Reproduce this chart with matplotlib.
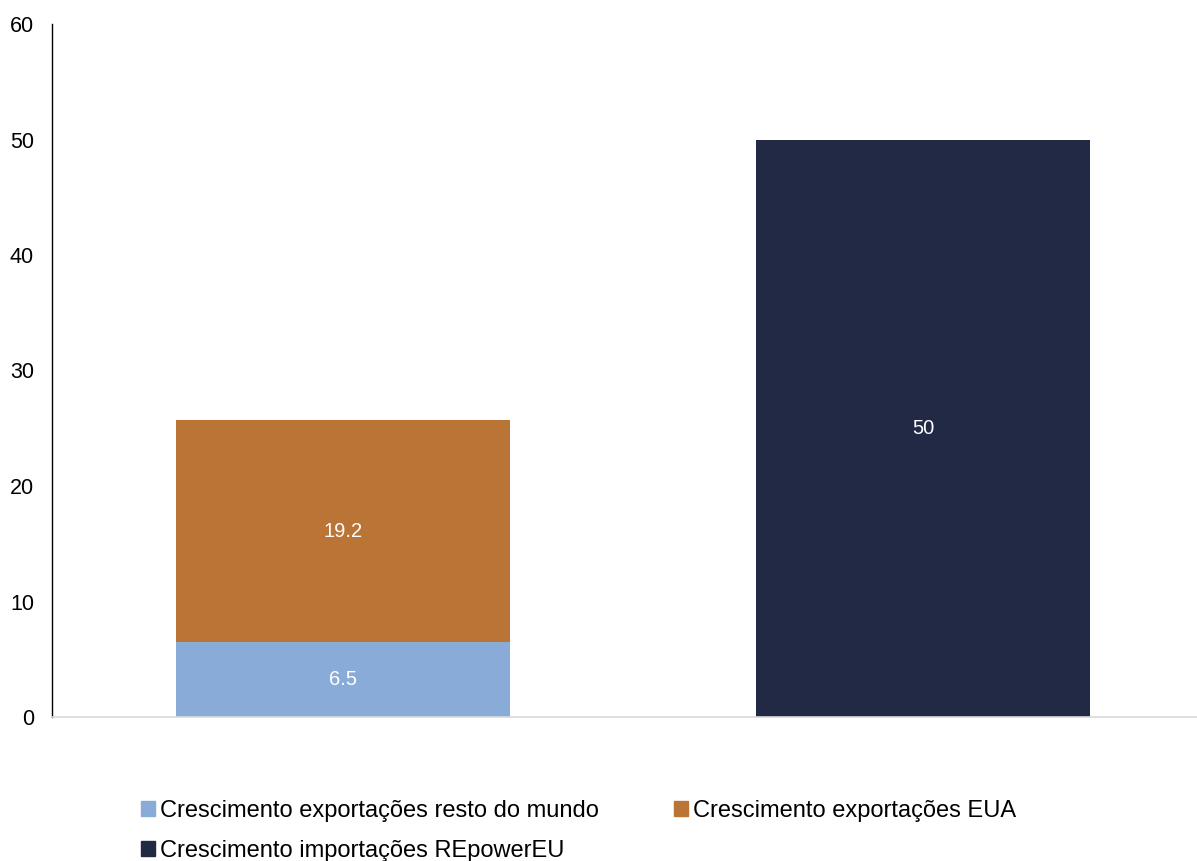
import matplotlib.pyplot as plt
from matplotlib.patches import Patch

plt.rcParams['font.family'] = ['Liberation Sans', 'DejaVu Sans']

# stacked values per bar (bar 0: exports, bar 1: REpowerEU imports)
positions = [0, 1]
resto_mundo = [6.5, 0]
eua = [19.2, 0]
repower = [0, 50]
labels = ['Crescimento exportações resto do mundo',
          'Crescimento exportações EUA',
          'Crescimento importações REpowerEU']
colors = ['#88ACD7', '#BA7436', '#222945']

fig = plt.figure(figsize=(11.97, 8.61), dpi=100)
ax = fig.add_axes([52 / 1197, 1 - 717 / 861, 1145 / 1197, 693 / 861])

w = 0.576
b1 = ax.bar(positions[0], resto_mundo[0], w, color=colors[0])
b2 = ax.bar(positions[0], eua[0], w, bottom=resto_mundo[0], color=colors[1])
b3 = ax.bar(positions[1], repower[1], w, color=colors[2])

for bars, val, base in [(b1, resto_mundo[0], 0), (b2, eua[0], resto_mundo[0]), (b3, repower[1], 0)]:
    r = bars[0]
    ax.text(r.get_x() + r.get_width() / 2, base + val / 2, f'{val:g}',
            ha='center', va='center', color='white', fontsize=14.5)

ax.set_xlim(-0.502, 1.472)
ax.set_ylim(0, 60)
ax.set_yticks(range(0, 61, 10))
ax.set_xticks([])
ax.tick_params(axis='y', length=0, pad=13, labelsize=15.5)
for s in ['top', 'right']:
    ax.spines[s].set_visible(False)
ax.spines['left'].set_color('black')
ax.spines['left'].set_linewidth(1.0)
ax.spines['bottom'].set_color('#D9D9D9')
ax.spines['bottom'].set_linewidth(1.2)

# legend fills column-wise, so reorder to read row by row
order = [0, 2, 1]
handles = [Patch(color=colors[i]) for i in order]
fig.legend(handles, [labels[i] for i in order], ncol=2, loc='upper left',
           bbox_to_anchor=(141 / 1197, 1 - 800 / 861),
           frameon=False, fontsize=17, handlelength=0.6, handleheight=0.62,
           handletextpad=0.2, columnspacing=3.2, labelspacing=0.75, borderaxespad=0,
           borderpad=0)

fig.savefig('out.png', dpi=100)
